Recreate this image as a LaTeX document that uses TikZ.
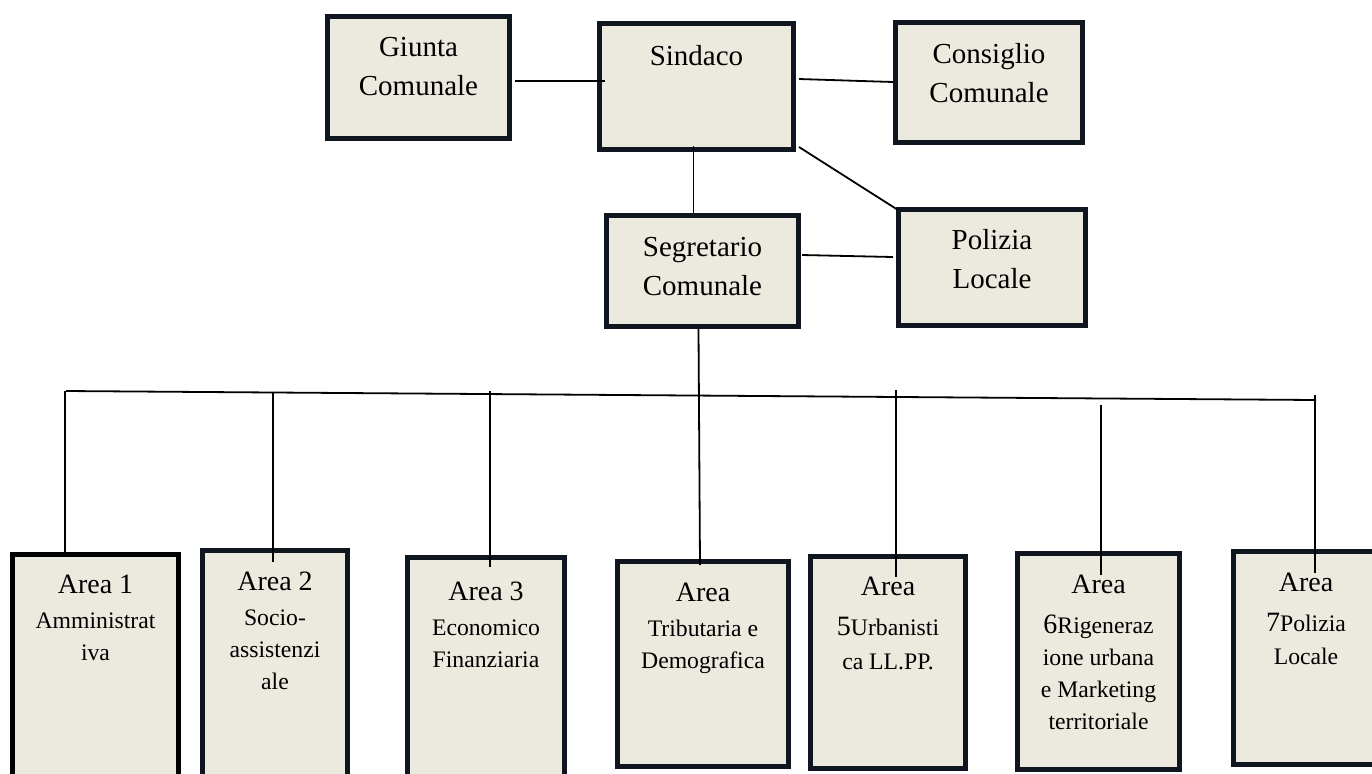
\documentclass[tikz,border=0pt]{standalone}
\usepackage{fontspec}
\setmainfont{Liberation Serif}
\usetikzlibrary{calc}
\definecolor{boxfill}{HTML}{ECE9DF}
\definecolor{boxline}{HTML}{0F1620}
\newcommand{\areatitle}[1]{{\fontsize{14}{17}\selectfont #1}}
\tikzset{
	orgbox/.style={draw=boxline, line width=2.5pt, fill=boxfill, inner sep=0pt},
	toptext/.style={anchor=north, align=center, inner sep=0pt, font=\fontsize{14.5}{19.5}\selectfont},
	areatext/.style={anchor=north, align=center, inner sep=0pt, font=\fontsize{11.85}{16}\selectfont},
	link/.style={line width=0.9pt}
}

\begin{document}
\begin{tikzpicture}[x=0.5pt, y=-0.5pt]
		%%%%% START %%%%%
		
		\path[fill=white] (0, 0) rectangle (1372, 773);
		\useasboundingbox (0, 0) rectangle (1372, 773);
		\clip (0, 0) rectangle (1372, 773);
		
		% top row
		\node[orgbox, minimum width=91pt, minimum height=61pt] (giunta) at (418.5, 77.5) {};
		\node[orgbox, minimum width=97pt, minimum height=63pt] (sind) at (696.5, 86.5) {};
		\node[orgbox, minimum width=93.5pt, minimum height=60pt] (cons) at (989, 82.5) {};
		\node[orgbox, minimum width=96pt, minimum height=55.5pt] (segr) at (702.5, 271) {};
		\node[orgbox, minimum width=93.5pt, minimum height=58pt] (pol) at (992, 267.5) {};
		
		\node[toptext] (giuntaT) at (418.5, 37) {Giunta\\Comunale};
		\node[toptext] (sindT) at (696.5, 45) {Sindaco};
		\node[toptext] (consT) at (989, 43) {Consiglio\\Comunale};
		\node[toptext] (segrT) at (702.5, 237) {Segretario\\Comunale};
		\node[toptext] (polT) at (992, 229) {Polizia\\Locale};
		
		\draw[link] ($(giunta.east)+(3, 3.5)$) -- ($(sind.west)+(8, -5.5)$);
		\draw[link] ($(sind.east)+(3, -7.5)$) -- ($(cons.west)+(0, -0.5)$);
		\draw[link] ($(sind.south east)+(3, -5)$) -- ($(pol.north west)+(2, 3)$);
		\draw[link] ($(sind.south)+(-3, -6)$) -- ($(segr.north)+(-9, 0)$);
		\draw[link] ($(segr.east)+(1, -16)$) -- ($(pol.west)+(-3, -10.5)$);
		
		% areas
		\node[orgbox, draw=black, minimum width=83pt, minimum height=121.5pt] (a1) at (95.5, 676) {};
		\node[orgbox, minimum width=72.5pt, minimum height=123.5pt] (a2) at (275, 674) {};
		\node[orgbox, minimum width=78.5pt, minimum height=120pt] (a3) at (486, 677.5) {};
		\node[orgbox, minimum width=85.5pt, minimum height=102.5pt] (a4) at (703, 664) {};
		\node[orgbox, minimum width=77.5pt, minimum height=106pt] (a5) at (888, 662.5) {};
		\node[orgbox, minimum width=81pt, minimum height=108pt] (a6) at (1098.5, 661.5) {};
		\node[orgbox, minimum width=72.5pt, minimum height=106.5pt] (a7) at (1306, 658) {};
		
		\node[areatext] (a1T) at (95.5, 575) {\areatitle{Area 1}\\[1.5pt]Amministrat\\iva};
		\node[areatext] (a2T) at (275, 572) {\areatitle{Area 2}\\[1.5pt]Socio-\\assistenzi\\ale};
		\node[areatext] (a3T) at (486, 582) {\areatitle{Area 3}\\[1.5pt]Economico\\Finanziaria};
		\node[areatext] (a4T) at (703, 583) {\areatitle{Area}\\[1.5pt]Tributaria e\\Demografica};
		\node[areatext] (a5T) at (888, 577) {\areatitle{Area}\\[4pt]\areatitle{5}Urbanisti\\[1pt]ca LL.PP.};
		\node[areatext] (a6T) at (1098.5, 575) {\areatitle{Area}\\[4pt]\areatitle{6}Rigeneraz\\ione urbana\\e Marketing\\territoriale};
		\node[areatext] (a7T) at (1306, 573) {\areatitle{Area}\\[4pt]\areatitle{7}Polizia\\[0.5pt]Locale};
		
		% bus
		\coordinate (busL) at (66, 391);
		\coordinate (busR) at (1316, 400);
		\coordinate (t1) at (65, 391);
		\coordinate (t2) at (273, 392.5);
		\coordinate (t3) at (490, 391);
		\coordinate (t5) at (896, 390);
		\coordinate (t6) at (1101, 405);
		\coordinate (t7) at (1315, 395);
		\draw[link] (busL) -- (busR);
		
		\draw[link] (t1) -- (t1 |- a1.north);
		\draw[link] (t2) -- ($(t2 |- a2.north)+(0, 14)$);
		\draw[link] (t3) -- ($(t3 |- a3.north)+(0, 12)$);
		\draw[link] ($(segr.south)+(-4, 0)$) -- ($(a4.north)+(-3, 6)$);
		\draw[link] (t5) -- (t5 |- a5T.north);
		\draw[link] (t6) -- (t6 |- a6T.north);
		\draw[link] (t7) -- (t7 |- a7T.north);
		
		%%%%% END %%%%%
\end{tikzpicture}
\end{document}
